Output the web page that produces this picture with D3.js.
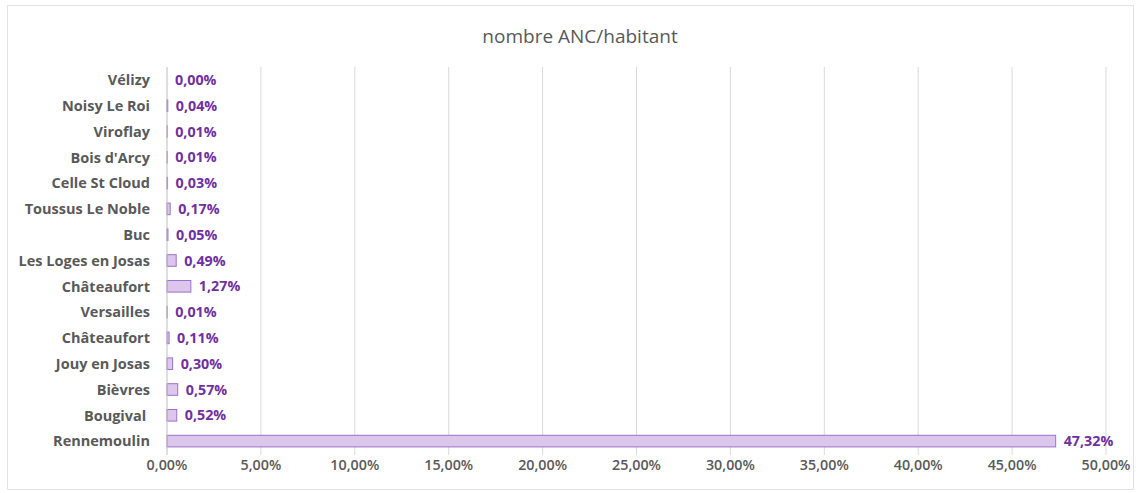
<!DOCTYPE html>
<html><head><meta charset="utf-8">
<script src="https://cdn.jsdelivr.net/npm/d3@7"></script>
<style>body{margin:0;background:#fff}svg{display:block}</style>
</head><body>
<script>
const categories = ["Vélizy","Noisy Le Roi","Viroflay","Bois d'Arcy","Celle St Cloud","Toussus Le Noble","Buc","Les Loges en Josas","Châteaufort","Versailles","Châteaufort","Jouy en Josas","Bièvres","Bougival ","Rennemoulin"];
const values = [0.00,0.04,0.01,0.01,0.03,0.17,0.05,0.49,1.27,0.01,0.11,0.30,0.57,0.52,47.32];
const ticks = [0,5,10,15,20,25,30,35,40,45,50];
const title = "nombre ANC/habitant";

const W = 1139, H = 493;
const fmt = v => v.toFixed(2).replace(".", ",") + "%";
const svg = d3.select("body").append("svg").attr("width", W).attr("height", H);
svg.append("rect").attr("x",7.5).attr("y",5.5).attr("width",1126).attr("height",484)
  .attr("fill","#fff").attr("stroke","#e3e3e3");
svg.append("text").attr("x",580).attr("y",43).attr("text-anchor","middle")
  .attr("font-family","Open Sans, sans-serif").attr("font-size",19).attr("fill","#595959").text(title);

const x = d3.scaleLinear().domain([0,50]).range([167,1106]);
const idx = categories.map((d,i)=>i);
const y = d3.scaleBand().domain(idx).range([67,454]).paddingInner(0.55).paddingOuter(0.275);

const g = svg.append("g");
g.selectAll("line.grid").data(ticks.slice(1)).join("line").attr("class","grid")
  .attr("x1",d=>x(d)).attr("x2",d=>x(d)).attr("y1",67).attr("y2",455)
  .attr("stroke","#d9d9d9").attr("stroke-width",1);

g.selectAll("rect.bar").data(values).join("rect").attr("class","bar")
  .attr("x",x(0)).attr("y",(d,i)=>y(i)).attr("width",d=>x(d)-x(0)).attr("height",y.bandwidth())
  .attr("fill","#dcc6ec").attr("stroke","#9c72c8").attr("stroke-width",1);

g.append("line").attr("x1",x(0)).attr("x2",x(0)).attr("y1",67).attr("y2",455).attr("stroke","#bfbfbf");

g.selectAll("text.val").data(values).join("text").attr("class","val")
  .attr("x",d=>x(d)+8).attr("y",(d,i)=>y(i)+y.bandwidth()/2).attr("dy","0.36em")
  .attr("font-family","Open Sans, sans-serif").attr("font-weight","bold").attr("font-size",14.3)
  .attr("fill","#7030a0").text(d=>fmt(d));

g.selectAll("text.cat").data(categories).join("text").attr("class","cat")
  .attr("x",150).attr("y",(d,i)=>y(i)+y.bandwidth()/2).attr("dy","0.36em")
  .attr("text-anchor","end").attr("xml:space","preserve").style("white-space","pre")
  .attr("font-family","Open Sans, sans-serif").attr("font-weight","bold").attr("font-size",14.5)
  .attr("fill","#595959").text(d=>d);

g.selectAll("text.tick").data(ticks).join("text").attr("class","tick")
  .attr("x",d=>x(d)).attr("y",469.5).attr("text-anchor","middle")
  .attr("font-family","Open Sans, sans-serif").attr("font-weight","600").attr("font-size",14.3)
  .attr("fill","#595959").text(d=>fmt(d));
</script>
</body></html>
